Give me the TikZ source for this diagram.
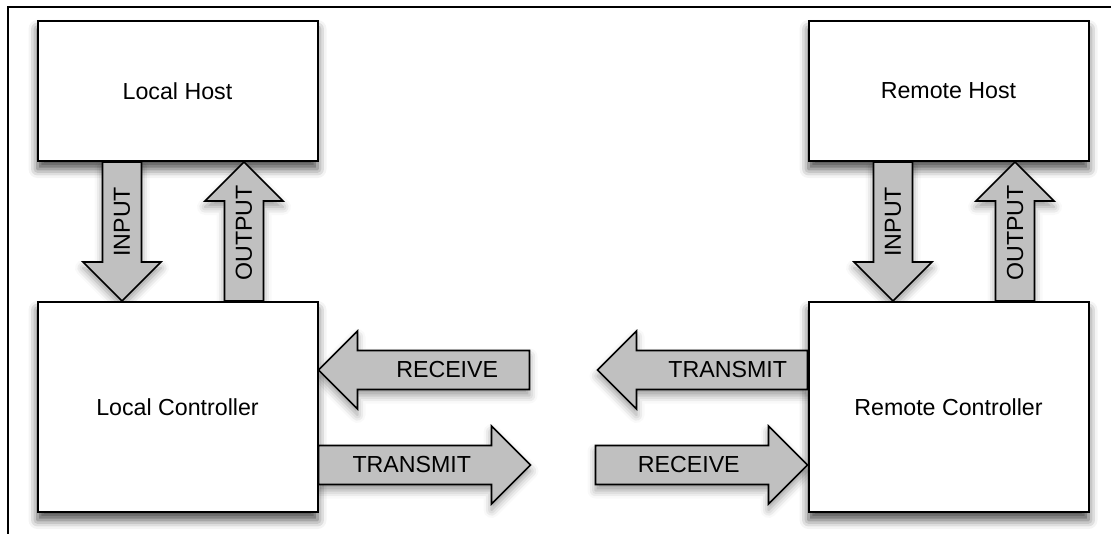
\documentclass[tikz,border=0pt]{standalone}
\usepackage{fontspec}
\setmainfont{Liberation Sans}
\usetikzlibrary{calc, positioning, shadows.blur, backgrounds}

\definecolor{arrowgray}{RGB}{192,192,192}

% #1 label options, #2 name, #3 tail, #4 tip, #5 label position, #6 label
\newcommand{\blockarrow}[6][]{%
  \coordinate (#2-b) at ($(#4)!19.5pt!(#3)$);
  \begin{pgfonlayer}{background}
  \path[arrowshade] ($(#3)!9.75pt!90:(#4)$) -- ($(#2-b)!9.75pt!90:(#4)$)
    -- ($(#2-b)!19.5pt!90:(#4)$) -- (#4) -- ($(#2-b)!19.5pt!-90:(#4)$)
    -- ($(#2-b)!9.75pt!-90:(#4)$) -- ($(#3)!9.75pt!-90:(#4)$) -- cycle;
  \end{pgfonlayer}
  \draw[arrowbody] ($(#3)!9.75pt!90:(#4)$) -- ($(#2-b)!9.75pt!90:(#4)$)
    -- ($(#2-b)!19.5pt!90:(#4)$) -- (#4) -- ($(#2-b)!19.5pt!-90:(#4)$)
    -- ($(#2-b)!9.75pt!-90:(#4)$) -- ($(#3)!9.75pt!-90:(#4)$) -- cycle;
  \node[arrowlabel, #1] (#2) at ($(#3)!#5!(#4)$) {#6};
}

\begin{document}
\begin{tikzpicture}[x=0.5pt, y=-0.5pt,
  box/.style={draw, line width=1pt, fill=white, minimum width=140pt,
    font=\fontsize{11.6}{14}\selectfont,
    blur shadow={shadow xshift=0pt, shadow yshift=-4pt, shadow blur radius=4.5pt, shadow opacity=70}},
  hostbox/.style={box, minimum height=70pt},
  ctrlbox/.style={box, minimum height=105pt},
  arrowshade/.style={fill=white,
    blur shadow={shadow xshift=0pt, shadow yshift=-3pt, shadow blur radius=4pt, shadow opacity=40}},
  arrowbody/.style={draw, line width=0.8pt, fill=arrowgray, line join=miter},
  arrowlabel/.style={inner sep=0pt, font=\fontsize{11.6}{14}\selectfont}]
  \useasboundingbox (0,0) rectangle (1111,534);

  % frame
  \draw[line width=1pt] (8,534) -- (8,7) -- (1111,7);

  % hosts and controllers
  \node[hostbox] (lhost) at (177.5,91) {Local Host};
  \node[hostbox] (rhost) at (948.5,91) {Remote Host};
  \node[ctrlbox, below=69.5pt of lhost] (lctrl) {Local Controller};
  \node[ctrlbox, below=69.5pt of rhost] (rctrl) {Remote Controller};

  % arrow ends on the boxes
  \coordinate (lh-in) at ($(lhost.south)+(-55.5,0)$);
  \coordinate (lc-in) at ($(lctrl.north)+(-55.5,0)$);
  \coordinate (lh-out) at ($(lhost.south)+(66.5,0)$);
  \coordinate (lc-out) at ($(lctrl.north)+(66.5,0)$);
  \coordinate (rh-in) at ($(rhost.south)+(-55.5,0)$);
  \coordinate (rc-in) at ($(rctrl.north)+(-55.5,0)$);
  \coordinate (rh-out) at ($(rhost.south)+(66.5,0)$);
  \coordinate (rc-out) at ($(rctrl.north)+(66.5,0)$);
  \coordinate (lc-rx) at ($(lctrl.east)+(0,-37)$);
  \coordinate (lc-tx) at ($(lctrl.east)+(0,58)$);
  \coordinate (rc-tx) at ($(rctrl.west)+(0,-37)$);
  \coordinate (rc-rx) at ($(rctrl.west)+(0,58)$);
  % free ends of the link arrows
  \coordinate (lrx) at ($(lc-rx)+(211,0)$);
  \coordinate (ltx) at ($(lc-tx)+(212,0)$);
  \coordinate (rtx) at ($(rc-tx)+(-210,0)$);
  \coordinate (rrx) at ($(rc-rx)+(-212,0)$);

  % host <-> controller
  \blockarrow[rotate=90]{lin}{lh-in}{lc-in}{0.43}{INPUT}
  \blockarrow[rotate=90]{lout}{lc-out}{lh-out}{0.49}{OUTPUT}
  \blockarrow[rotate=90]{rin}{rh-in}{rc-in}{0.43}{INPUT}
  \blockarrow[rotate=90]{rout}{rc-out}{rh-out}{0.49}{OUTPUT}

  % controller links
  \blockarrow{lrecv}{lrx}{lc-rx}{0.39}{RECEIVE}
  \blockarrow{ltrans}{lc-tx}{ltx}{0.44}{TRANSMIT}
  \blockarrow{rtrans}{rc-tx}{rtx}{0.38}{TRANSMIT}
  \blockarrow{rrecv}{rrx}{rc-rx}{0.44}{RECEIVE}
\end{tikzpicture}
\end{document}
